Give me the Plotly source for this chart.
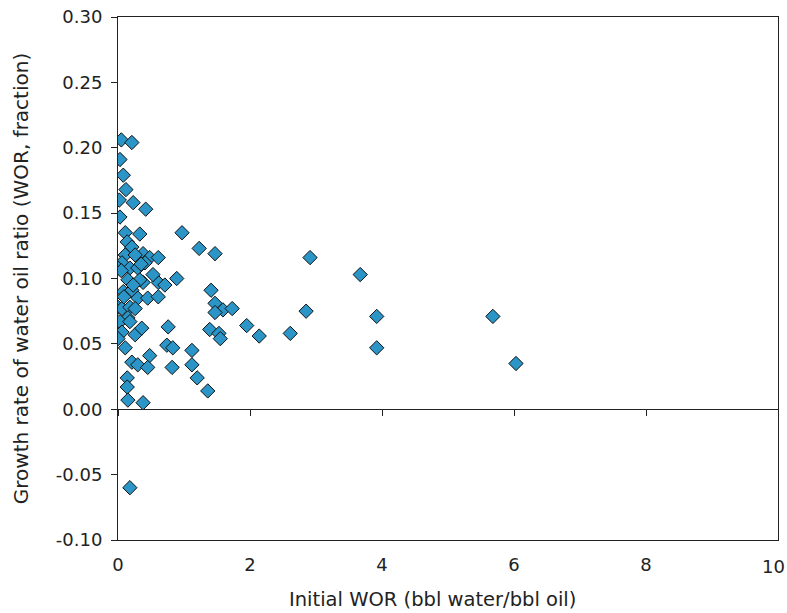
import plotly.graph_objects as go

initial_wor = [0.05, 0.21, 0.03, 0.08, 0.12, 0.02, 0.23, 0.42, 0.03, 0.11,
               0.33, 0.14, 0.21, 0.38, 0.48, 0.61, 0.11, 0.26, 0.06, 0.00,
               0.18, 0.30, 0.41, 0.15, 0.38, 0.61, 0.71, 0.08, 0.21, 0.30,
               0.45, 0.61, 0.00, 0.06, 0.18, 0.26, 0.15, 0.03, 0.06, 0.00,
               0.26, 0.36, 0.11, 0.21, 0.30, 0.48, 0.45, 0.14, 0.14, 0.15,
               0.38, 0.18, 0.89, 0.97, 1.23, 1.47, 1.41, 1.47, 1.59, 1.73,
               1.47, 0.76, 1.39, 1.53, 1.55, 1.95, 0.74, 0.83, 1.12, 0.82,
               1.12, 1.20, 1.36, 2.14, 2.61, 2.85, 2.91, 3.67, 3.92, 3.92,
               5.68, 6.03, 0.05, 0.09, 0.33, 0.53, 0.18, 0.35, 0.23]
growth_rate = [0.206, 0.204, 0.191, 0.179, 0.168, 0.160, 0.158, 0.153, 0.147, 0.135,
               0.134, 0.128, 0.124, 0.119, 0.116, 0.116, 0.118, 0.118, 0.112, 0.108,
               0.108, 0.108, 0.112, 0.099, 0.097, 0.097, 0.095, 0.090, 0.091, 0.085,
               0.085, 0.086, 0.078, 0.077, 0.078, 0.077, 0.070, 0.067, 0.059, 0.054,
               0.057, 0.062, 0.047, 0.036, 0.034, 0.041, 0.032, 0.024, 0.017, 0.007,
               0.005, -0.060, 0.100, 0.135, 0.123, 0.119, 0.091, 0.081, 0.076, 0.077,
               0.074, 0.063, 0.061, 0.058, 0.054, 0.064, 0.049, 0.047, 0.045, 0.032,
               0.034, 0.024, 0.014, 0.056, 0.058, 0.075, 0.116, 0.103, 0.071, 0.047,
               0.071, 0.035, 0.106, 0.086, 0.099, 0.103, 0.067, 0.111, 0.095]

x_ticks = [0, 2, 4, 6, 8, 10]
y_ticks = [-0.10, -0.05, 0.00, 0.05, 0.10, 0.15, 0.20, 0.25, 0.30]
x_title = "Initial WOR (bbl water/bbl oil)"
y_title = "Growth rate of water oil ratio (WOR, fraction)"

FONT = "DejaVu Sans, Liberation Sans, Arial, sans-serif"
TICK_SIZE = 18

fig = go.Figure()
fig.add_trace(go.Scatter(
    x=initial_wor, y=growth_rate, mode="markers",
    marker=dict(symbol="diamond", size=11, color="#2A95C6",
                line=dict(color="#111111", width=1)),
    showlegend=False, hoverinfo="x+y"))
# invisible trace to carry the tick-only axis along y = 0
fig.add_trace(go.Scatter(x=[0, 10], y=[0, 0], xaxis="x2", mode="markers",
                         marker=dict(opacity=0), showlegend=False, hoverinfo="skip"))

fig.update_layout(
    width=787, height=613,
    margin=dict(l=118, r=9, t=17, b=73),
    paper_bgcolor="white", plot_bgcolor="white",
    font=dict(family=FONT, size=19, color="#222222"),
    xaxis=dict(range=[0, 10], tickvals=x_ticks[:-1], ticktext=[str(v) for v in x_ticks[:-1]],
               ticks="", showgrid=False, zeroline=False, automargin=False,
               showline=True, linecolor="#222222", linewidth=1, mirror=True,
               tickfont=dict(size=TICK_SIZE), ticklabelstandoff=8),
    xaxis2=dict(range=[0, 10], overlaying="x", anchor="free", position=0.25,
                tickvals=x_ticks, ticks="outside", ticklen=6, tickcolor="#222222",
                showticklabels=False, showgrid=False, zeroline=False, automargin=False,
                showline=True, linecolor="#222222", linewidth=1),
    yaxis=dict(range=[-0.10, 0.30], tickvals=y_ticks,
               ticktext=[f"{v:.2f}" for v in y_ticks],
               ticks="outside", ticklen=6, tickcolor="#222222",
               tickfont=dict(size=TICK_SIZE), ticklabelstandoff=5, automargin=False,
               showgrid=False, zeroline=False,
               showline=True, linecolor="#222222", linewidth=1, mirror=True,
               title=dict(text=y_title, standoff=21, font=dict(size=20))),
    annotations=[
        dict(x=1.0, y=0, xref="paper", yref="paper", yanchor="top",
             xanchor="right", xshift=9, yshift=-14, showarrow=False,
             text=str(x_ticks[-1]), font=dict(size=TICK_SIZE)),
        dict(x=0.476, y=-0.1147, xref="paper", yref="paper", yanchor="middle",
             xanchor="center", showarrow=False, text=x_title, font=dict(size=19.5)),
    ],
)

fig.write_html("out.html")
